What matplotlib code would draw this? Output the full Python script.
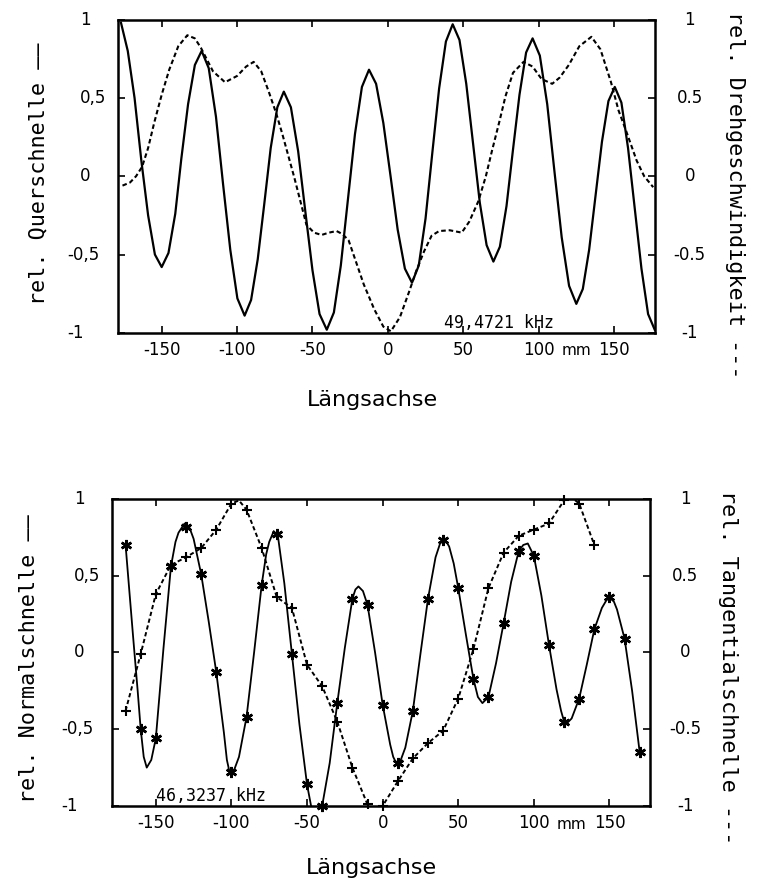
import matplotlib
matplotlib.use("Agg")
import matplotlib.pyplot as plt

# ---------------- upper panel: 49,4721 kHz ----------------
# rel. Querschnelle (solid)
quer_x = [-177, -172.5, -168, -163.5, -159, -154.5, -150,
          -145.5, -141, -137, -132.5, -128, -123.5,
          -118.8, -114, -109.3, -104.5, -99.8, -95,
          -90.7, -86.3, -82, -77.7, -73.3, -69,
          -64.3, -59.5, -54.8, -50, -45.3, -40.5,
          -35.8, -31.2, -26.5, -21.8, -17.2, -12.5,
          -7.8, -3, 1.8, 6.5, 11.3, 16,
          20.5, 25, 29.5, 34, 38.5, 43,
          47.5, 52, 56.5, 61, 65.5, 70,
          74.3, 78.7, 83, 87.3, 91.7, 96,
          100.8, 105.7, 110.5, 115.3, 120.2, 125,
          129.3, 133.5, 137.8, 142, 146.3, 150.5,
          154.9, 159.3, 163.8, 168.2, 172.6, 177]
quer_y = [0.98, 0.80, 0.50, 0.10, -0.25, -0.50, -0.58,
          -0.49, -0.24, 0.11, 0.46, 0.71, 0.80,
          0.69, 0.38, -0.05, -0.47, -0.78, -0.89,
          -0.79, -0.53, -0.18, 0.18, 0.44, 0.54,
          0.44, 0.16, -0.22, -0.60, -0.88, -0.98,
          -0.87, -0.57, -0.15, 0.27, 0.57, 0.68,
          0.59, 0.34, 0.0, -0.34, -0.59, -0.68,
          -0.57, -0.27, 0.15, 0.56, 0.86, 0.97,
          0.87, 0.59, 0.21, -0.17, -0.44, -0.545,
          -0.45, -0.19, 0.17, 0.52, 0.79, 0.88,
          0.77, 0.46, 0.03, -0.39, -0.70, -0.815,
          -0.72, -0.47, -0.12, 0.22, 0.48, 0.57,
          0.47, 0.18, -0.21, -0.59, -0.88, -0.98]

# rel. Drehgeschwindigkeit (dashed)
dreh_x = [-176, -171, -167, -163, -159, -155, -150, -145, -139, -133,
          -128, -124, -116, -108, -100, -94, -89, -84, -79, -74,
          -70, -66, -62, -58, -54, -49, -44, -39, -34, -30,
          -26, -21, -16, -9, -3, 2, 8, 14, 19, 24,
          29, 34, 41, 49, 54, 60, 65, 69, 74, 78,
          83, 90, 96, 102, 109, 114, 120, 127, 135, 141,
          148, 153, 158, 165, 170, 176]
dreh_y = [-0.06, -0.04, 0.00, 0.06, 0.18, 0.34, 0.52, 0.68, 0.83, 0.90,
          0.88, 0.82, 0.67, 0.60, 0.64, 0.70, 0.73, 0.67, 0.54, 0.40,
          0.27, 0.13, -0.01, -0.16, -0.31, -0.36, -0.375, -0.36, -0.35, -0.37,
          -0.41, -0.55, -0.69, -0.85, -0.96, -0.99, -0.90, -0.74, -0.60, -0.48,
          -0.38, -0.35, -0.345, -0.36, -0.29, -0.16, 0.0, 0.16, 0.35, 0.51,
          0.66, 0.73, 0.70, 0.62, 0.59, 0.63, 0.71, 0.83, 0.89, 0.81,
          0.60, 0.42, 0.29, 0.10, 0.0, -0.07]

# ---------------- lower panel: 46,3237 kHz ----------------
# rel. Normalschnelle (solid curve + measured points every 10 mm)
normal_x = [-170, -165, -162, -160, -158, -156, -153, -150, -145, -140,
            -137, -135, -131, -128, -125, -120, -115, -110, -105, -103,
            -101, -98, -95, -90, -85, -80, -77, -75, -72, -69,
            -65, -60, -55, -50, -45, -40, -35, -30, -25, -20,
            -18, -16, -13, -10, -5, 0, 5, 7, 9, 12,
            15, 20, 25, 30, 35, 38, 41, 44, 47, 50,
            55, 60, 63, 66, 70, 75, 80, 85, 90, 93,
            96, 100, 105, 110, 115, 118, 120, 122, 125, 130,
            135, 140, 145, 148, 150, 153, 155, 160, 165, 170]
normal_y = [0.70, 0.10, -0.25, -0.50, -0.68, -0.75, -0.70, -0.56, 0.02, 0.56,
            0.72, 0.78, 0.84, 0.82, 0.74, 0.51, 0.20, -0.13, -0.52, -0.70,
            -0.79, -0.76, -0.68, -0.42, 0.0, 0.44, 0.64, 0.72, 0.79, 0.74,
            0.45, -0.01, -0.47, -0.86, -1.12, -1.0, -0.72, -0.33, 0.03, 0.35,
            0.41, 0.43, 0.40, 0.31, 0.0, -0.34, -0.60, -0.68, -0.72, -0.70,
            -0.62, -0.38, -0.01, 0.35, 0.62, 0.71, 0.74, 0.69, 0.58, 0.42,
            0.12, -0.17, -0.29, -0.33, -0.29, -0.07, 0.19, 0.46, 0.66, 0.70,
            0.71, 0.63, 0.37, 0.05, -0.24, -0.38, -0.45, -0.46, -0.43, -0.30,
            -0.08, 0.15, 0.29, 0.34, 0.36, 0.33, 0.28, 0.09, -0.25, -0.65]
normal_pts_x = list(range(-170, 171, 10))
normal_pts_y = [0.70, -0.50, -0.56, 0.56, 0.82, 0.51, -0.13, -0.78, -0.42, 0.44,
                0.77, -0.01, -0.86, -1.0, -0.33, 0.35, 0.31, -0.34, -0.72, -0.38,
                0.35, 0.73, 0.42, -0.17, -0.29, 0.19, 0.66, 0.63, 0.05, -0.45,
                -0.30, 0.15, 0.36, 0.09, -0.65]

# rel. Tangentialschnelle (dashed)
tang_x = [-170, -160, -150, -140, -130, -120, -110, -100, -95, -90,
          -80, -70, -60, -50, -40, -30, -20, -10, -5, 0,
          10, 20, 30, 40, 50, 60, 70, 80, 90, 100,
          110, 120, 125, 130, 140]
tang_y = [-0.38, -0.01, 0.38, 0.57, 0.62, 0.68, 0.80, 0.97, 0.99, 0.93,
          0.68, 0.36, 0.29, -0.08, -0.22, -0.45, -0.75, -0.99, -1.04, -1.0,
          -0.84, -0.69, -0.59, -0.51, -0.30, 0.02, 0.42, 0.65, 0.76, 0.80,
          0.84, 0.99, 1.01, 0.97, 0.70]
tang_pts_x = list(range(-170, 141, 10))
tang_pts_y = [-0.38, -0.01, 0.38, 0.57, 0.62, 0.68, 0.80, 0.97, 0.93, 0.68,
              0.36, 0.29, -0.08, -0.22, -0.45, -0.75, -0.99, -1.0, -0.84, -0.69,
              -0.59, -0.51, -0.30, 0.02, 0.42, 0.65, 0.76, 0.80, 0.84, 0.99,
              0.97, 0.70]

x_ticks = [-150, -100, -50, 0, 50, 100, 150]
x_ticklabels = ["-150", "-100", "-50", "0", "50", "100", "150"]
y_ticks = [1, 0.5, 0, -0.5, -1]
y_left_labels = ["1", "0,5", "0", "-0,5", "-1"]
y_right_labels = ["1", "0.5", "0", "-0.5", "-1"]

MONO = "DejaVu Sans Mono"
DASH = (0, (2.2, 1.4))


def style_panel(ax, freq_text, freq_x):
    ax.set_xlim(-179, 177)
    ax.set_ylim(-1, 1)
    for sp in ax.spines.values():
        sp.set_linewidth(1.8)
    ax.set_xticks(x_ticks, x_ticklabels)
    ax.set_yticks(y_ticks)
    ax.tick_params(direction="in", length=5, width=1.2, top=True, right=True,
                   labelleft=False, labelsize=12, pad=6)
    # y labels, left side: digits aligned, minus sign hanging out
    ytrans = ax.get_yaxis_transform()
    w = ax.get_position().width * 769
    for v, lab in zip(y_ticks, y_left_labels):
        off = -51 if lab.startswith("-") else -38
        ax.text(off / w, v, lab, transform=ytrans, ha="left", va="center",
                fontsize=12)
    for v, lab in zip(y_ticks, y_right_labels):
        ax.text(1 + 35 / w, v, lab, transform=ytrans, ha="center", va="center",
                fontsize=12)
    ax.annotate("mm", xy=(125, 0), xycoords=("data", "axes fraction"),
                xytext=(0, -13), textcoords="offset points",
                ha="center", va="center", fontsize=11)
    ax.text(freq_x, -0.935, freq_text, family=MONO, fontsize=12,
            ha="left", va="center")


fig = plt.figure(figsize=(7.69, 8.90), dpi=100)

# upper panel
ax1 = fig.add_axes([0.1534, 0.626, 0.698, 0.352])
ax1.plot(quer_x, quer_y, color="black", lw=1.6)
ax1.plot(dreh_x, dreh_y, color="black", lw=1.5, ls=DASH)
style_panel(ax1, "49,4721 kHz", 37)

# lower panel
ax2 = fig.add_axes([0.1456, 0.0944, 0.70, 0.345])
ax2.plot(normal_x, normal_y, color="black", lw=1.3)
ax2.plot(normal_pts_x, normal_pts_y, ls="none", marker=(6, 2, 0),
         ms=8, mew=1.8, color="black", clip_on=False)
ax2.plot(tang_x, tang_y, color="black", lw=1.4, ls=DASH)
ax2.plot(tang_pts_x, tang_pts_y, ls="none", marker="+",
         ms=7, mew=1.5, color="black", clip_on=False)
style_panel(ax2, "46,3237 kHz", -150)

# axis titles
fig.text(0.4837, 0.5506, "Längsachse", fontsize=16, ha="center", va="center")
fig.text(0.4824, 0.0247, "Längsachse", fontsize=16, ha="center", va="center")
fig.text(0.0494, 0.8045, "rel. Querschnelle ——", family=MONO, fontsize=15.7,
         rotation=90, ha="center", va="center")
fig.text(0.0377, 0.2596, "rel. Normalschnelle ——", family=MONO, fontsize=15.7,
         rotation=90, ha="center", va="center")
fig.text(0.956, 0.781, "rel. Drehgeschwindigkeit ---", family=MONO,
         fontsize=15.7, rotation=270, ha="center", va="center")
fig.text(0.9467, 0.25, "rel. Tangentialschnelle ---", family=MONO,
         fontsize=15.7, rotation=270, ha="center", va="center")

fig.savefig("out.png", dpi=100)
